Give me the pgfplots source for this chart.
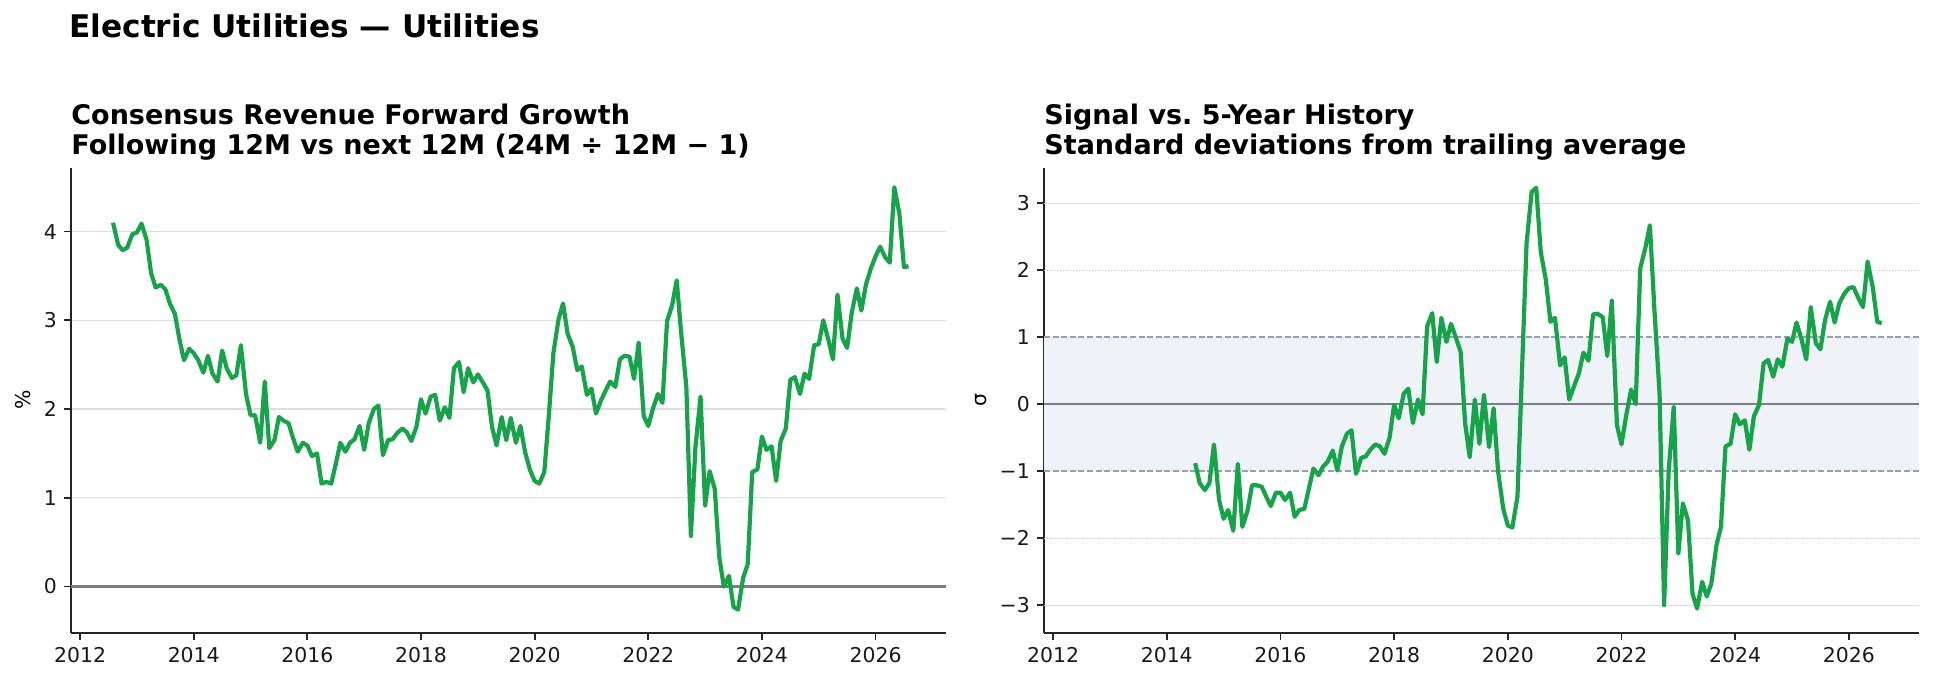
\documentclass[border=0pt]{standalone}
\usepackage{fontspec}
\setmainfont{DejaVu Sans}
\usepackage{pgfplots}
\usepackage{pgfplotstable}
\pgfplotsset{compat=1.18}
\frenchspacing

\definecolor{sig}{RGB}{22,163,74}
\definecolor{gridc}{RGB}{221,222,229}
\definecolor{zeroc}{RGB}{122,124,136}
\definecolor{bandc}{RGB}{239,243,248}
\definecolor{dashc}{RGB}{150,160,178}
\definecolor{dotc}{RGB}{188,196,212}

% Revenue forward growth, %
\pgfplotstableread{
t v
2012.58 4.10
2012.67 3.85
2012.75 3.79
2012.83 3.82
2012.92 3.97
2013.00 3.99
2013.08 4.09
2013.17 3.91
2013.25 3.53
2013.33 3.37
2013.42 3.40
2013.50 3.35
2013.58 3.19
2013.67 3.07
2013.75 2.78
2013.83 2.55
2013.92 2.68
2014.00 2.63
2014.08 2.55
2014.17 2.41
2014.25 2.60
2014.33 2.40
2014.42 2.31
2014.50 2.66
2014.58 2.46
2014.67 2.35
2014.75 2.38
2014.83 2.72
2014.92 2.17
2015.00 1.93
2015.08 1.93
2015.17 1.62
2015.25 2.31
2015.33 1.56
2015.42 1.65
2015.50 1.91
2015.58 1.87
2015.67 1.84
2015.75 1.67
2015.83 1.52
2015.92 1.62
2016.00 1.59
2016.08 1.47
2016.17 1.50
2016.25 1.16
2016.33 1.18
2016.42 1.16
2016.50 1.38
2016.58 1.62
2016.67 1.52
2016.75 1.62
2016.83 1.66
2016.92 1.81
2017.00 1.54
2017.08 1.84
2017.17 2.00
2017.25 2.04
2017.33 1.48
2017.42 1.65
2017.50 1.66
2017.58 1.73
2017.67 1.78
2017.75 1.74
2017.83 1.64
2017.92 1.80
2018.00 2.11
2018.08 1.95
2018.17 2.14
2018.25 2.16
2018.33 1.87
2018.42 2.02
2018.50 1.90
2018.58 2.46
2018.67 2.53
2018.75 2.19
2018.83 2.46
2018.92 2.30
2019.00 2.39
2019.08 2.31
2019.17 2.21
2019.25 1.80
2019.33 1.59
2019.42 1.91
2019.50 1.65
2019.58 1.90
2019.67 1.62
2019.75 1.81
2019.83 1.52
2019.92 1.31
2020.00 1.19
2020.08 1.16
2020.17 1.29
2020.25 1.93
2020.33 2.63
2020.42 3.01
2020.50 3.19
2020.58 2.85
2020.67 2.70
2020.75 2.44
2020.83 2.48
2020.92 2.16
2021.00 2.23
2021.08 1.95
2021.17 2.10
2021.25 2.21
2021.33 2.31
2021.42 2.25
2021.50 2.56
2021.58 2.60
2021.67 2.59
2021.75 2.34
2021.83 2.75
2021.92 1.92
2022.00 1.81
2022.08 2.00
2022.17 2.17
2022.25 2.07
2022.33 2.99
2022.42 3.17
2022.50 3.45
2022.58 2.85
2022.67 2.25
2022.75 0.57
2022.83 1.57
2022.92 2.14
2023.00 0.91
2023.08 1.30
2023.17 1.10
2023.25 0.33
2023.33 0.00
2023.42 0.12
2023.50 -0.23
2023.58 -0.26
2023.67 0.10
2023.75 0.25
2023.83 1.29
2023.92 1.32
2024.00 1.69
2024.08 1.54
2024.17 1.58
2024.25 1.19
2024.33 1.64
2024.42 1.78
2024.50 2.33
2024.58 2.36
2024.67 2.17
2024.75 2.40
2024.83 2.34
2024.92 2.72
2025.00 2.73
2025.08 3.00
2025.17 2.78
2025.25 2.56
2025.33 3.29
2025.42 2.79
2025.50 2.69
2025.58 3.08
2025.67 3.36
2025.75 3.11
2025.83 3.40
2025.92 3.59
2026.00 3.72
2026.08 3.83
2026.17 3.71
2026.25 3.65
2026.33 4.50
2026.42 4.20
2026.50 3.60
2026.58 3.61
}\growth

% Signal z-score vs trailing 5-year window
\pgfplotstableread{
t z
2014.50 -0.88
2014.58 -1.18
2014.67 -1.28
2014.75 -1.18
2014.83 -0.60
2014.92 -1.43
2015.00 -1.71
2015.08 -1.58
2015.17 -1.89
2015.25 -0.89
2015.33 -1.83
2015.42 -1.59
2015.50 -1.21
2015.58 -1.21
2015.67 -1.23
2015.75 -1.38
2015.83 -1.52
2015.92 -1.32
2016.00 -1.32
2016.08 -1.43
2016.17 -1.32
2016.25 -1.68
2016.33 -1.58
2016.42 -1.56
2016.50 -1.26
2016.58 -0.96
2016.67 -1.06
2016.75 -0.93
2016.83 -0.86
2016.92 -0.69
2017.00 -0.99
2017.08 -0.63
2017.17 -0.44
2017.25 -0.39
2017.33 -1.04
2017.42 -0.80
2017.50 -0.78
2017.58 -0.68
2017.67 -0.60
2017.75 -0.63
2017.83 -0.74
2017.92 -0.50
2018.00 -0.01
2018.08 -0.21
2018.17 0.16
2018.25 0.23
2018.33 -0.28
2018.42 0.07
2018.50 -0.15
2018.58 1.16
2018.67 1.36
2018.75 0.63
2018.83 1.29
2018.92 0.93
2019.00 1.20
2019.08 1.01
2019.17 0.78
2019.25 -0.29
2019.33 -0.79
2019.42 0.07
2019.50 -0.59
2019.58 0.14
2019.67 -0.64
2019.75 -0.06
2019.83 -1.01
2019.92 -1.56
2020.00 -1.81
2020.08 -1.84
2020.17 -1.38
2020.25 0.50
2020.33 2.40
2020.42 3.17
2020.50 3.23
2020.58 2.27
2020.67 1.85
2020.75 1.23
2020.83 1.29
2020.92 0.58
2021.00 0.70
2021.08 0.07
2021.17 0.28
2021.25 0.46
2021.33 0.77
2021.42 0.65
2021.50 1.34
2021.58 1.35
2021.67 1.30
2021.75 0.72
2021.83 1.55
2021.92 -0.31
2022.00 -0.60
2022.08 -0.18
2022.17 0.22
2022.25 0.00
2022.33 2.03
2022.42 2.33
2022.50 2.67
2022.58 1.40
2022.67 0.16
2022.75 -3.00
2022.83 -1.00
2022.92 -0.04
2023.00 -2.23
2023.08 -1.48
2023.17 -1.73
2023.25 -2.83
2023.33 -3.05
2023.42 -2.65
2023.50 -2.87
2023.58 -2.68
2023.67 -2.11
2023.75 -1.83
2023.83 -0.63
2023.92 -0.59
2024.00 -0.15
2024.08 -0.30
2024.17 -0.24
2024.25 -0.68
2024.33 -0.18
2024.42 -0.01
2024.50 0.61
2024.58 0.66
2024.67 0.41
2024.75 0.67
2024.83 0.56
2024.92 0.98
2025.00 0.93
2025.08 1.22
2025.17 0.96
2025.25 0.67
2025.33 1.45
2025.42 0.91
2025.50 0.82
2025.58 1.25
2025.67 1.53
2025.75 1.22
2025.83 1.50
2025.92 1.65
2026.00 1.73
2026.08 1.75
2026.17 1.58
2026.25 1.45
2026.33 2.13
2026.42 1.75
2026.50 1.23
2026.58 1.21
}\zscore

\pgfplotsset{
  panel/.style={
    scale only axis,
    anchor=south west,
    width=437.5pt, height=232.5pt,
    xmin=2011.84, xmax=2027.24,
    axis x line*=bottom, axis y line*=left,
    axis line style={-, line width=0.9pt, color=black!85},
    tick align=outside,
    major tick length=3.6pt,
    tick style={line width=0.9pt, color=black!85},
    xtick={2012,2014,...,2026},
    xticklabels={2012,2014,2016,2018,2020,2022,2024,2026},
    tick label style={font=\fontsize{10.2}{12}\selectfont, color=black!90},
    clip=true,
  },
  sigline/.style={sig, line width=2.1pt, line join=round, mark=none},
}

\begin{document}
\begin{tikzpicture}
\useasboundingbox (0,0) rectangle (966.5pt,339.5pt);

% left panel: forward revenue growth
\begin{axis}[panel,
  at={(35.5pt,23.15pt)},
  ymin=-0.52, ymax=4.72,
  ytick={0,1,2,3,4},
  yticklabels={0,1,2,3,4},
  ymajorgrids,
  major grid style={gridc, line width=0.6pt},
]
\draw[zeroc, line width=1.1pt] (axis cs:2011.84,0) -- (axis cs:2027.24,0);
\addplot[sigline] table[x=t, y=v] {\growth};
\end{axis}

% right panel: standard deviations from trailing average
\begin{axis}[panel,
  at={(522pt,23.15pt)},
  width=437.65pt,
  ymin=-3.41, ymax=3.53,
  ytick={-3,-2,-1,0,1,2,3},
  yticklabels={−3,−2,−1,0,1,2,3},
]
\fill[bandc] (axis cs:2011.84,-1) rectangle (axis cs:2027.24,1);
\draw[gridc, line width=0.6pt] (axis cs:2011.84,3) -- (axis cs:2027.24,3);
\draw[gridc, line width=0.6pt] (axis cs:2011.84,-3) -- (axis cs:2027.24,-3);
\draw[dotc, line width=0.6pt, dash pattern=on 0.6pt off 1.0pt] (axis cs:2011.84,2) -- (axis cs:2027.24,2);
\draw[dotc, line width=0.6pt, dash pattern=on 0.6pt off 1.0pt] (axis cs:2011.84,-2) -- (axis cs:2027.24,-2);
\draw[dashc, line width=0.8pt, dash pattern=on 3pt off 1.3pt] (axis cs:2011.84,1) -- (axis cs:2027.24,1);
\draw[dashc, line width=0.8pt, dash pattern=on 3pt off 1.3pt] (axis cs:2011.84,-1) -- (axis cs:2027.24,-1);
\draw[zeroc, line width=1.1pt] (axis cs:2011.84,0) -- (axis cs:2027.24,0);
\addplot[sigline] table[x=t, y=z] {\zscore};
\end{axis}

% titles
\node[anchor=base west, inner sep=0pt, font=\fontsize{15.6}{18}\selectfont\bfseries] at (34.5pt,320.7pt) {Electric Utilities — Utilities};

\node[anchor=base west, inner sep=0pt, font=\fontsize{13.5}{16}\selectfont\bfseries] at (35.5pt,277.4pt) {Consensus Revenue Forward Growth};
\node[anchor=base west, inner sep=0pt, font=\fontsize{13.5}{16}\selectfont\bfseries] at (35.5pt,262pt) {Following 12M vs next 12M (24M ÷ 12M − 1)};

\node[anchor=base west, inner sep=0pt, font=\fontsize{13.5}{16}\selectfont\bfseries] at (522pt,277.4pt) {Signal vs. 5-Year History};
\node[anchor=base west, inner sep=0pt, font=\fontsize{13.5}{16}\selectfont\bfseries] at (522pt,262pt) {Standard deviations from trailing average};

% axis labels
\node[rotate=90, inner sep=0pt, font=\fontsize{10.2}{12}\selectfont] at (11.7pt,139.4pt) {\%};
\node[rotate=90, inner sep=0pt, font=\fontsize{10.2}{12}\selectfont] at (490.3pt,139.4pt) {σ};
\end{tikzpicture}
\end{document}
